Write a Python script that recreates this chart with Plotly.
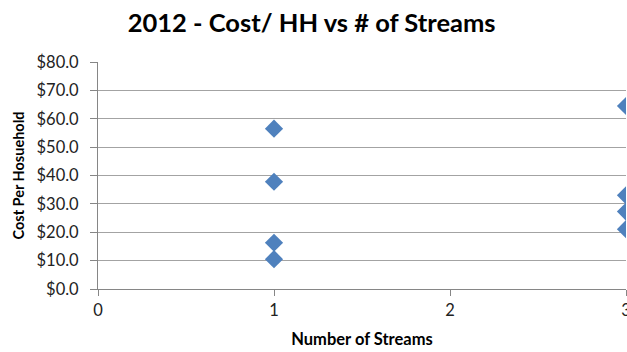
import plotly.graph_objects as go

# Cost per household by number of waste streams, 2012
streams = [1, 1, 1, 1, 3, 3, 3, 3]
cost_per_hh = [56.5, 37.8, 16.3, 10.5, 64.5, 33.0, 27.3, 21.1]

x_ticks = [0, 1, 2, 3]
y_ticks = [0, 10, 20, 30, 40, 50, 60, 70, 80]
y_tick_labels = ["$%.1f" % v for v in y_ticks]

font_family = "Lato, Open Sans, sans-serif"

fig = go.Figure(
    go.Scatter(
        x=streams,
        y=cost_per_hh,
        mode="markers",
        marker=dict(symbol="diamond", size=14, color="#4F81BD", line=dict(width=0)),
        cliponaxis=True,
        hoverinfo="x+y",
    )
)

fig.update_layout(
    width=627,
    height=352,
    margin=dict(l=98, r=1, t=62, b=63, autoexpand=False),
    paper_bgcolor="white",
    plot_bgcolor="white",
    showlegend=False,
    title=dict(
        text="<b>2012 - Cost/ HH vs # of Streams</b>",
        x=0.497,
        xanchor="center",
        y=0.935,
        yanchor="middle",
        font=dict(family=font_family, size=25.5, color="black"),
    ),
    font=dict(family=font_family, color="#222222"),
)

fig.update_xaxes(
    range=[0, 3],
    tickvals=x_ticks,
    ticktext=[str(v) for v in x_ticks],
    ticklabeloverflow="allow",
    automargin=False,
    showgrid=False,
    zeroline=False,
    showline=True,
    linecolor="#868686",
    linewidth=1,
    ticks="outside",
    ticklen=6,
    tickcolor="#868686",
    tickfont=dict(size=16.5, color="#222222"),
    title=dict(
        text="<b>Number of Streams</b>",
        font=dict(size=16.5, color="black"),
        standoff=14,
    ),
)

fig.update_yaxes(
    range=[0, 80],
    tickvals=y_ticks,
    ticktext=y_tick_labels,
    automargin=False,
    showgrid=True,
    gridcolor="#A3A3A3",
    gridwidth=1,
    zeroline=False,
    showline=True,
    linecolor="#868686",
    linewidth=1,
    ticks="outside",
    ticklen=7,
    tickcolor="#868686",
    ticklabelstandoff=8,
    tickfont=dict(size=16.5, color="#222222"),
    title=dict(
        text="<b>Cost Per Hosuehold</b>",
        font=dict(size=14.5, color="black"),
        standoff=8,
    ),
)

fig.write_html("out.html")
